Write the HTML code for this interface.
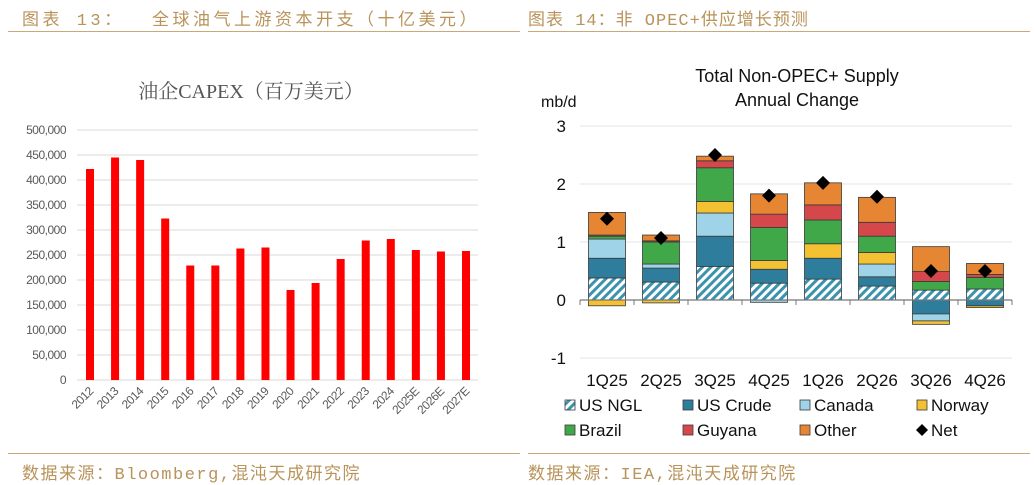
<!DOCTYPE html>
<html><head><meta charset="utf-8">
<style>
body{margin:0;width:1035px;height:484px;background:#fff;overflow:hidden;font-family:"Liberation Sans","Noto Sans CJK SC",sans-serif}
.hdr{position:absolute;color:#b8935a;font-size:17px;font-family:"Liberation Mono","Noto Sans CJK SC",monospace;letter-spacing:1px;white-space:nowrap}
.rule{position:absolute;height:1px;background:#c9a97a}
svg{position:absolute;left:0;top:0}
</style></head><body>
<div class="hdr" style="left:22px;top:5px;letter-spacing:3.5px">图表 13：&nbsp; 全球油气上游资本开支（十亿美元）</div>
<div class="rule" style="left:8px;top:31px;width:512px"></div>
<div class="hdr" style="left:528px;top:5px">图表 14：非 OPEC+供应增长预测</div>
<div class="rule" style="left:528px;top:31px;width:502px"></div>
<div class="rule" style="left:8px;top:453px;width:512px"></div>
<div class="rule" style="left:528px;top:453px;width:502px"></div>
<div class="hdr" style="left:22px;top:459px;letter-spacing:1.5px">数据来源：Bloomberg,混沌天成研究院</div>
<div class="hdr" style="left:528px;top:459px;letter-spacing:1.5px">数据来源：IEA,混沌天成研究院</div>
<svg id="s" width="1035" height="484"></svg>
<script>
const capexYears=["2012","2013","2014","2015","2016","2017","2018","2019","2020","2021","2022","2023","2024","2025E","2026E","2027E"];
const capexValues=[422000,445000,440000,323000,229000,229000,263000,265000,180000,194000,242000,279000,282000,260000,257000,258000];
const capexTicks=[0,50000,100000,150000,200000,250000,300000,350000,400000,450000,500000];

const quarters=["1Q25","2Q25","3Q25","4Q25","1Q26","2Q26","3Q26","4Q26"];
const seriesNames=["US NGL","US Crude","Canada","Norway","Brazil","Guyana","Other"];
const usNgl=[0.38,0.31,0.58,0.29,0.36,0.24,0.17,0.19];
const usCrude=[0.34,0.24,0.52,0.24,0.36,0.16,-0.24,-0.10];
const canada=[0.33,0.07,0.40,-0.04,0,0.22,-0.12,0];
const norway=[-0.10,-0.05,0.20,0.15,0.25,0.20,-0.06,-0.03];
const brazil=[0.05,0.38,0.58,0.57,0.41,0.28,0.15,0.20];
const guyana=[0.02,0.02,0.12,0.23,0.26,0.24,0.17,0.05];
const other=[0.39,0.10,0.08,0.35,0.38,0.43,0.43,0.19];
const netValues=[1.40,1.07,2.50,1.80,2.02,1.78,0.50,0.50];
const supplyTicks=[-1,0,1,2,3];

const NS="http://www.w3.org/2000/svg";
const svg=document.getElementById('s');
function mk(tag,a,parent){const e=document.createElementNS(NS,tag);for(const k in a)e.setAttribute(k,a[k]);(parent||svg).appendChild(e);return e;}

const defs=mk('defs',{});
const pat=mk('pattern',{id:'hatch',width:6,height:6,patternUnits:'userSpaceOnUse',patternTransform:'rotate(45)'},defs);
mk('rect',{width:6,height:6,fill:'#ffffff'},pat);
mk('rect',{width:3,height:6,fill:'#3d93ad'},pat);

// ---- left chart
const lx0=77,lx1=478,ly0=380,ly1=130;
const ly=v=>ly0-(v/500000)*(ly0-ly1);
const lxc=i=>90+i*((466-90)/(capexYears.length-1));
let t=mk('text',{x:251,y:98,'text-anchor':'middle','font-size':20,fill:'#555','font-family':'"Liberation Serif","Noto Serif CJK SC",serif'});
t.textContent='油企CAPEX（百万美元）';


capexTicks.forEach(v=>{
 const g=mk('line',{x1:lx0,x2:lx1,y1:ly(v),y2:ly(v),stroke:'#d9d9d9','stroke-width':1});
 
 
 const tx=mk('text',{x:66,y:ly(v)+4,'text-anchor':'end','font-size':12,fill:'#595959','letter-spacing':'-0.5'});
 tx.textContent=v.toLocaleString('en-US');
 
 
});
capexValues.forEach((v,i)=>{
 const b=mk('rect',{x:lxc(i)-4,y:ly(v),width:8,height:ly0-ly(v),fill:'#ff0000'});
 
 
 const tx=mk('text',{x:lxc(i)+4,y:392,'text-anchor':'end','font-size':12,fill:'#595959','letter-spacing':'-0.5',transform:`rotate(-45 ${lxc(i)+4} 392)`});
 tx.textContent=capexYears[i];
 
 
});

// ---- right chart
const rx0=580,rx1=1012,rz=300,unit=58;
const ry=v=>rz-v*unit;
const rxc=i=>607+i*54;
const colors=['url(#hatch)','#2e7d9c','#9fd4e8','#f4c132','#41a84a','#d5474a','#e68632'];
const series=[usNgl,usCrude,canada,norway,brazil,guyana,other];
t=mk('text',{x:797,y:82,'text-anchor':'middle','font-size':18,fill:'#111'});t.textContent='Total Non-OPEC+ Supply';


t=mk('text',{x:797,y:106,'text-anchor':'middle','font-size':18,fill:'#111'});t.textContent='Annual Change';


t=mk('text',{x:541,y:107,'font-size':16,fill:'#111'});t.textContent='mb/d';


supplyTicks.forEach(v=>{
 if(v!==0){const g=mk('line',{x1:rx0,x2:rx1,y1:ry(v),y2:ry(v),stroke:'#e6e6e6','stroke-width':1});
 
 }
 const tx=mk('text',{x:566,y:ry(v)+6,'text-anchor':'end','font-size':17,fill:'#111'});
 tx.textContent=v;
 
 
});
quarters.forEach((q,i)=>{
 let pos=0,neg=0;
 series.forEach((s,k)=>{
  const v=s[i]; if(!v)return;
  let y,h;
  if(v>0){y=ry(pos+v);h=v*unit;pos+=v;}else{y=ry(neg);h=-v*unit;neg+=v;}
  const r=mk('rect',{x:rxc(i)-18.5,y:y,width:37,height:h,fill:colors[k],stroke:'#3a3a3a','stroke-width':0.8});
  
  
 });
 const tx=mk('text',{x:rxc(i),y:386,'text-anchor':'middle','font-size':17,fill:'#111'});
 tx.textContent=q;
 
 
});
const ax=mk('line',{x1:rx0,x2:rx1,y1:rz,y2:rz,stroke:'#777','stroke-width':1.2});


for(let i=0;i<=quarters.length;i++){const tk=mk('line',{x1:rx0+i*54,x2:rx0+i*54,y1:rz,y2:rz+5,stroke:'#777'});
 
 }
netValues.forEach((v,i)=>{
 const d=mk('polygon',{points:`${rxc(i)},${ry(v)-7} ${rxc(i)+7},${ry(v)} ${rxc(i)},${ry(v)+7} ${rxc(i)-7},${ry(v)}`,fill:'#000'});
 
 
});
const legNames=seriesNames.concat(['Net']);
const legX=[565,683,800,917];
legNames.forEach((n,k)=>{
 const cx=legX[k%4],cy=k<4?405:430;
 const g=mk('g',{});
 
 
 if(n==='Net') mk('polygon',{points:`${cx+5},${cy-6} ${cx+11},${cy} ${cx+5},${cy+6} ${cx-1},${cy}`,fill:'#000'},g);
 else mk('rect',{x:cx,y:cy-5,width:10,height:10,fill:colors[k],stroke:'#3a3a3a','stroke-width':0.8},g);
 const tx=mk('text',{x:cx+14,y:cy+6,'font-size':17,fill:'#111'},g);tx.textContent=n;
});
</script>
</body></html>
